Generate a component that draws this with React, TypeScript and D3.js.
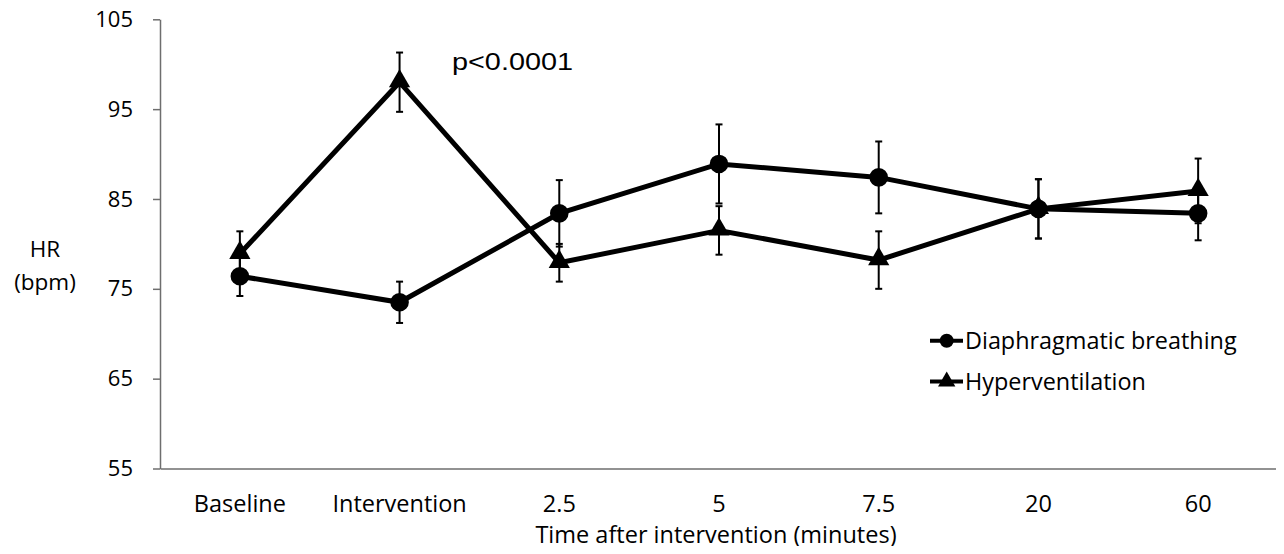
import * as d3 from 'd3';
import { useEffect, useRef } from "react";

// time points
const categories = ["Baseline", "Intervention", "2.5", "5", "7.5", "20", "60"];
// mean HR (bpm) and error (SE)
const diaphragmatic = [76.4, 73.5, 83.4, 88.9, 87.4, 83.9, 83.4];
const diaphragmaticErr = [2.2, 2.3, 3.7, 4.4, 4.0, 3.3, 3.0];
const hyperventilation = [78.9, 98.0, 77.9, 81.5, 78.2, 83.9, 85.9];
const hyperventilationErr = [2.5, 3.3, 2.1, 2.7, 3.2, 3.3, 3.6];
const yTicks = [55, 65, 75, 85, 95, 105];

const seriesNames = ["Diaphragmatic breathing", "Hyperventilation"];

const FONT = "'Open Sans', 'Noto Sans', sans-serif";

const App = () => {
    const svgRef = useRef(null);
    const width = 1284;
    const height = 554;
    const margin = { top: 19.3, bottom: 85.5, right: 6, left: 160 }

    useEffect(() => {
        const svg = d3.select(svgRef.current)
            .attr('width', width)
            .attr('height', height);
        svg.selectAll('*').remove();

        const x = d3.scaleBand().domain(categories).range([margin.left, width - margin.right]).padding(0);
        const y = d3.scaleLinear().domain([55, 105]).range([height - margin.bottom, margin.top]);
        const cx = (c) => x(c) + x.bandwidth() / 2;
        const axisColor = "#6e6e6e";

        // y axis
        const yAxis = d3.axisLeft(y).tickValues(yTicks).tickSize(7).tickSizeOuter(0).tickPadding(20);
        const gy = svg.append('g').attr('transform', `translate(${margin.left},0)`).call(yAxis);
        gy.select('.domain').attr('stroke', axisColor).attr('stroke-width', 1.5);
        gy.selectAll('.tick line').attr('stroke', axisColor).attr('stroke-width', 1.5);
        gy.selectAll('.tick text').attr('font-family', FONT).attr('font-size', 22).attr('fill', '#000');

        // x axis (no ticks)
        const xAxis = d3.axisBottom(x).tickSize(0).tickSizeOuter(0).tickPadding(0);
        const gx = svg.append('g').attr('transform', `translate(0,${y(55)})`).call(xAxis);
        gx.select('.domain').attr('stroke', axisColor).attr('stroke-width', 1.5);
        gx.selectAll('.tick text')
            .attr('font-family', FONT).attr('font-size', 23.5).attr('fill', '#000')
            .attr('dy', null).attr('y', 512 - y(55));

        // axis titles
        svg.append('text')
            .attr('x', 716)
            .attr('y', 543)
            .attr('text-anchor', 'middle')
            .attr('font-family', FONT).attr('font-size', 23.5)
            .text('Time after intervention (minutes)');
        const yl = svg.append('text')
            .attr('text-anchor', 'middle')
            .attr('font-family', FONT).attr('font-size', 22.5);
        yl.append('tspan').attr('x', 45).attr('y', 257).text('HR');
        yl.append('tspan').attr('x', 45).attr('y', 290).text('(bpm)');

        // p value
        svg.append('text')
            .attr('x', 452)
            .attr('y', 70)
            .attr('font-family', "'Liberation Sans', Arial, sans-serif").attr('font-size', 23)
            .attr('textLength', 121).attr('lengthAdjust', 'spacingAndGlyphs')
            .text('p<0.0001');

        const series = [
            { name: seriesNames[0], values: diaphragmatic, err: diaphragmaticErr, shape: 'circle' },
            { name: seriesNames[1], values: hyperventilation, err: hyperventilationErr, shape: 'triangle' },
        ];

        const line = d3.line().x(d => cx(d[0])).y(d => y(d[1]));
        const circleSym = d3.symbol().type(d3.symbolCircle).size(Math.PI * 9.3 * 9.3);
        const triSym = d3.symbol().type(d3.symbolTriangle).size(195);

        series.forEach(s => {
            // error bars
            categories.forEach((c, i) => {
                const lo = y(s.values[i] - s.err[i]);
                const hi = y(s.values[i] + s.err[i]);
                const g = svg.append('g').attr('stroke', '#000').attr('stroke-width', 2);
                g.append('line').attr('x1', cx(c)).attr('x2', cx(c)).attr('y1', lo).attr('y2', hi);
                g.append('line').attr('x1', cx(c) - 3.5).attr('x2', cx(c) + 3.5).attr('y1', lo).attr('y2', lo);
                g.append('line').attr('x1', cx(c) - 3.5).attr('x2', cx(c) + 3.5).attr('y1', hi).attr('y2', hi);
            });
        });

        series.forEach(s => {
            svg.append('path')
                .attr('d', line(categories.map((c, i) => [c, s.values[i]])))
                .attr('fill', 'none')
                .attr('stroke', '#000')
                .attr('stroke-width', 5)
                .attr('stroke-linejoin', 'miter');
            categories.forEach((c, i) => {
                svg.append('path')
                    .attr('d', s.shape === 'circle' ? circleSym() : triSym())
                    .attr('transform', `translate(${cx(c)},${y(s.values[i]) + (s.shape === 'circle' ? 0 : -1)})`)
                    .attr('fill', '#000');
            });
        });

        // legend
        const legendRows = [340.7, 381.5];
        series.forEach((s, i) => {
            const ly = legendRows[i];
            svg.append('line').attr('x1', 930).attr('x2', 963).attr('y1', ly).attr('y2', ly)
                .attr('stroke', '#000').attr('stroke-width', 4);
            svg.append('path')
                .attr('d', s.shape === 'circle'
                    ? d3.symbol().type(d3.symbolCircle).size(Math.PI * 7 * 7)()
                    : d3.symbol().type(d3.symbolTriangle).size(130)())
                .attr('transform', `translate(946.7,${ly})`)
                .attr('fill', '#000');
            svg.append('text')
                .attr('x', 965).attr('y', ly + 8.5)
                .attr('font-family', FONT).attr('font-size', 23.4)
                .text(s.name);
        });
    });

    return (
        <div style={{ margin: -8 }}>
            <svg ref={svgRef} style={{ display: 'block' }} />
        </div>
    );
}

export default App;
